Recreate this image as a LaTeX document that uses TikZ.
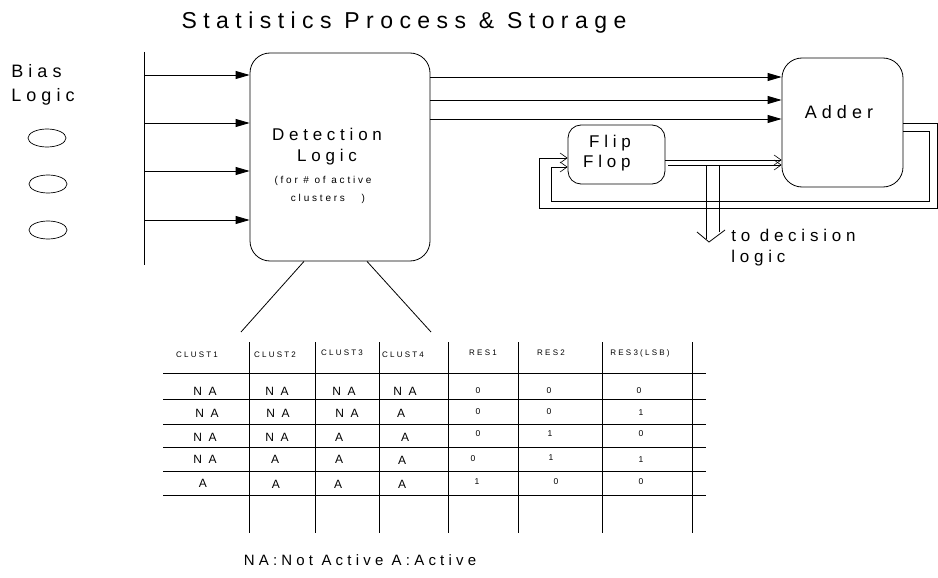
\documentclass[tikz,border=0pt]{standalone}
\usepackage{fontspec}
\setmainfont{Liberation Sans}[LetterSpace=28]
\usetikzlibrary{arrows.meta,shapes.geometric}
\begin{document}
\begin{tikzpicture}[x=1pt,y=-1pt,line width=0.8pt,
  box/.style={draw,rounded corners=20pt,inner sep=0pt},
  txt/.style={inner sep=0pt,align=center},
  fill arrow/.style={-{Triangle[length=14pt,width=8pt]}},
  open arrow/.style={-{Straight Barb[length=7pt,width=10pt,line width=0.6pt]}},
  cell/.style={inner sep=0pt,font=\fontsize{12}{13}\selectfont},
  num/.style={inner sep=0pt,font=\fontsize{8.5}{9}\selectfont},
  head/.style={inner sep=0pt,font=\fontsize{8}{9}\selectfont},
  bias/.style={draw,ellipse,minimum width=38pt,minimum height=18pt,inner sep=0pt,line width=0.7pt}]
\useasboundingbox (0,0) rectangle (938,578);
% title
\node[txt,font=\fontsize{23}{26}\selectfont] (title) at (404,23) {Statistics Process \& Storage};
% bias logic
\node[txt,font=\fontsize{18}{24}\selectfont,align=left,anchor=north west] (biaslbl) at (11,64) {Bias\\Logic};
\node[bias] (e1) at (47,138) {};
\node[bias] (e2) at (48,184) {};
\node[bias] (e3) at (48,230) {};
% bus
\coordinate (busT) at (144,52);
\coordinate (busB) at (144,265);
\draw (busT) -- (busB);
\coordinate (b1) at (144,75);
\coordinate (b2) at (144,123);
\coordinate (b3) at (144,171);
\coordinate (b4) at (144,220);
% boxes
\node[box,minimum width=180pt,minimum height=208pt] (det) at (340,157) {};
\node[box,minimum width=121pt,minimum height=129pt] (add) at (842.5,122.5) {};
\node[box,rounded corners=13pt,minimum width=97pt,minimum height=59pt] (ff) at (616.5,154.5) {};
\node[txt,font=\fontsize{17}{21}\selectfont] (dettxt) at (327,147) {Detection\\Logic};
\node[txt,font=\fontsize{10}{18}\selectfont] (detsub) at (323,190) {(for \# of active\\\hspace*{10pt}clusters\ \ \ )};
\node[txt,font=\fontsize{18}{20}\selectfont] (addtxt) at (839,112) {Adder};
\node[txt,font=\fontsize{17}{20}\selectfont,align=left] (fftxt) at (607,153) {\hspace*{6pt}Flip\\Flop};
% bus arrows
\foreach \b in {b1,b2,b3,b4} \draw[fill arrow] (\b) -- (det.west |- \b);
% detection to adder
\coordinate (d1) at (430,77);
\coordinate (d2) at (430,100);
\coordinate (d3) at (430,119);
\foreach \d in {d1,d2,d3} \draw[fill arrow] (\d) -- (add.west |- \d);
% flip flop outputs
\coordinate (f1) at (665,160);
\coordinate (f2) at (668,165);
\draw[open arrow] (ff.east |- f1) -- (add.west |- f1);
\draw[open arrow] (f2) -- (add.west |- f2);
% down to decision logic
\coordinate (dl) at (706,165);
\coordinate (dr) at (719,165);
\coordinate (tip) at (709,242);
\draw (dl) -- (706,239);
\draw (dr) -- (719,232);
\draw (697,232) -- (tip) -- (725,230);
\node[txt,font=\fontsize{17}{21}\selectfont,align=left,anchor=north west] (dec) at (731,229) {to decision\\logic};
% feedback loops
\coordinate (o1) at (937,123);
\coordinate (i1) at (929,131);
\draw[open arrow] (add.east |- o1) -- (o1) -- (937,208) -- (539,208) -- (539,158) -- (ff.west |- 0,158);
\draw[open arrow] (add.east |- i1) -- (i1) -- (929,201) -- (551,201) -- (551,167) -- (ff.west |- 0,167);
% fan out to table
\draw (det.south -| 304,0) -- (241,332);
\draw (det.south -| 367,0) -- (431,332);
% table
\foreach \x in {249,315,379,448,518,602,692} \draw (\x,342) -- (\x,533);
\foreach \y in {373,399,424,447,471,495} \draw (163,\y) -- (706,\y);
\node[head] (h1) at (197,355) {CLUST1};
\node[head] (h2) at (275,355) {CLUST2};
\node[head] (h3) at (342,353) {CLUST3};
\node[head] (h4) at (403,355) {CLUST4};
\node[head] (h5) at (483,353) {RES1};
\node[head] (h6) at (551,353) {RES2};
\node[head] (h7) at (640,353) {RES3(LSB)};
% rows
\node[cell] at (205,391) {N A}; \node[cell] at (277,391) {N A}; \node[cell] at (344,391) {N A}; \node[cell] at (405,391) {N A};
\node[num] at (478,391) {0}; \node[num] at (549,391) {0}; \node[num] at (639,391) {0};
\node[cell] at (207,413) {N A}; \node[cell] at (278,413) {N A}; \node[cell] at (347,413) {N A}; \node[cell] at (401,413) {A};
\node[num] at (478,412) {0}; \node[num] at (549,412) {0}; \node[num] at (641,413) {1};
\node[cell] at (205,437) {N A}; \node[cell] at (277,437) {N A}; \node[cell] at (339,437) {A}; \node[cell] at (405,437) {A};
\node[num] at (478,434) {0}; \node[num] at (550,434) {1}; \node[num] at (641,434) {0};
\node[cell] at (205,459) {N A}; \node[cell] at (275,459) {A}; \node[cell] at (339,459) {A}; \node[cell] at (402,460) {A};
\node[num] at (473,459) {0}; \node[num] at (551,458) {1}; \node[num] at (641,460) {1};
\node[cell] at (203,483) {A}; \node[cell] at (276,484) {A}; \node[cell] at (338,484) {A}; \node[cell] at (402,484) {A};
\node[num] at (477,482) {1}; \node[num] at (556,482) {0}; \node[num] at (641,482) {0};
% legend
\node[txt,font=\fontsize{15}{16}\selectfont] (legend) at (360,560) {NA:Not Active A:Active};
\end{tikzpicture}
\end{document}
